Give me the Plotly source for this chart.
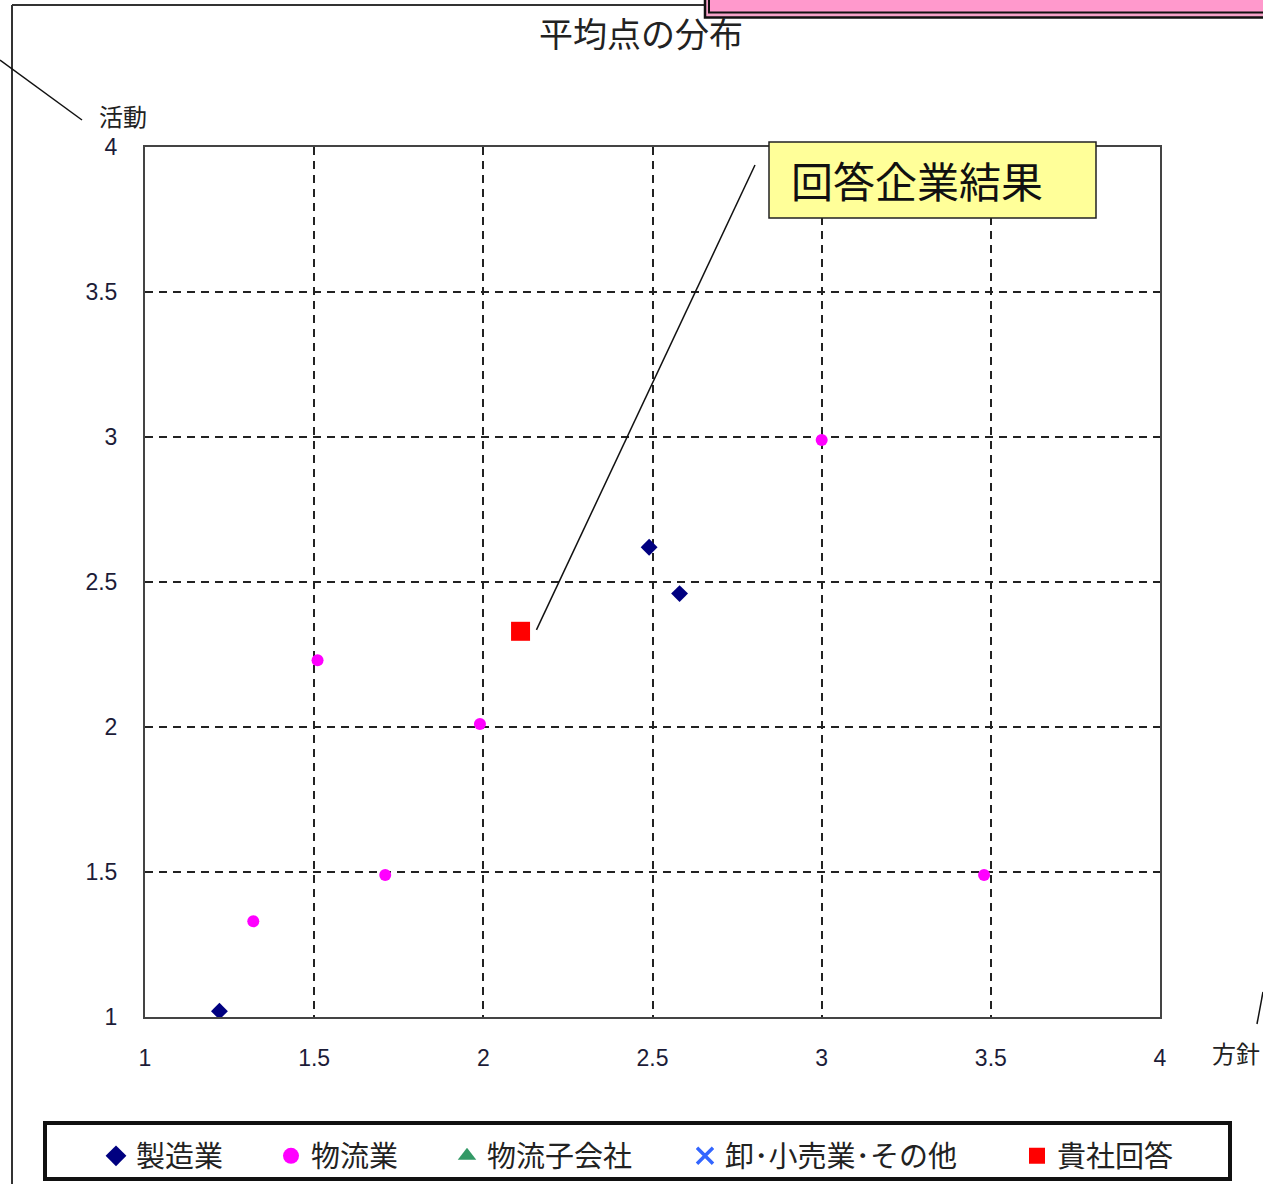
import plotly.graph_objects as go

# --- data -------------------------------------------------------------
mfg_x = [1.22, 2.49, 2.58]          # 製造業
mfg_y = [1.02, 2.62, 2.46]
log_x = [1.32, 1.51, 1.71, 1.99, 3.0, 3.48]   # 物流業
log_y = [1.33, 2.23, 1.49, 2.01, 2.99, 1.49]
sub_x = []                           # 物流子会社
sub_y = []
whl_x = []                           # 卸・小売業・その他
whl_y = []
own_x = [2.11]                       # 貴社回答
own_y = [2.33]

tick_vals = [1, 1.5, 2, 2.5, 3, 3.5, 4]
tick_text = ["1", "1.5", "2", "2.5", "3", "3.5", "4"]

series_names = ["製造業", "物流業", "物流子会社", "卸･小売業･その他", "貴社回答"]
series_colors = ["#000080", "#FF00FF", "#339966", "#3366FF", "#FF0000"]
series_symbols = ["diamond", "circle", "triangle-up", "x-thin-open", "square"]

# --- page geometry (pixels) ------------------------------------------
W, H = 1263, 1184
L, R, T, B = 145, 103, 147, 167
PW, PH = W - L - R, H - T - B


def px(xp):
    return (xp - L) / PW


def py(yp):
    return (H - B - yp) / PH


CJK = "Noto Sans CJK JP"
NUM = "Liberation Sans"

fig = go.Figure()

fig.add_trace(go.Scatter(x=mfg_x, y=mfg_y, mode="markers", name=series_names[0],
                         marker=dict(symbol="diamond", size=13, color=series_colors[0]),
                         showlegend=False))
fig.add_trace(go.Scatter(x=log_x, y=log_y, mode="markers", name=series_names[1],
                         marker=dict(symbol="circle", size=12, color=series_colors[1]),
                         showlegend=False))
fig.add_trace(go.Scatter(x=sub_x, y=sub_y, mode="markers", name=series_names[2],
                         marker=dict(symbol="triangle-up", size=12, color=series_colors[2]),
                         showlegend=False))
fig.add_trace(go.Scatter(x=whl_x, y=whl_y, mode="markers", name=series_names[3],
                         marker=dict(symbol="x-thin-open", size=12, color=series_colors[3],
                                     line=dict(width=3, color=series_colors[3])),
                         showlegend=False))
fig.add_trace(go.Scatter(x=own_x, y=own_y, mode="markers", name=series_names[4],
                         marker=dict(symbol="square", size=19, color=series_colors[4]),
                         showlegend=False))

# legend entries, one small legend per series laid out along the bottom box
legend_centers = [117, 292, 468, 706, 1038]
legend_layout = {}
for i, (name, col, sym, cx) in enumerate(zip(series_names, series_colors,
                                              series_symbols, legend_centers)):
    key = "legend" if i == 0 else f"legend{i + 1}"
    mk = dict(symbol=sym, size=20, color=col)
    if sym.startswith("x"):
        mk["line"] = dict(width=3.5, color=col)
    fig.add_trace(go.Scatter(x=[None], y=[None], mode="markers", name=name,
                             marker=mk, legend=key, showlegend=True, hoverinfo="skip"))
    legend_layout[key] = dict(
        x=px(cx - 21), y=py(1156), xanchor="left", yanchor="middle",
        orientation="h", bgcolor="rgba(0,0,0,0)", borderwidth=0,
        font=dict(family=CJK, size=29, color="#222222"),
        itemsizing="trace",
    )

shapes = []
# outer frame (left and top edges)
shapes.append(dict(type="line", xref="paper", yref="paper",
                   x0=px(12), y0=py(5), x1=px(12), y1=py(1200),
                   line=dict(color="#333333", width=2)))
shapes.append(dict(type="line", xref="paper", yref="paper",
                   x0=px(12), y0=py(5), x1=px(705), y1=py(5),
                   line=dict(color="#333333", width=2)))
# pink banner in the top-right corner
shapes.append(dict(type="rect", xref="paper", yref="paper",
                   x0=px(705), y0=py(-10), x1=px(1275), y1=py(17.5),
                   fillcolor="#F5A3C8", line=dict(color="#111111", width=2.5)))
shapes.append(dict(type="rect", xref="paper", yref="paper",
                   x0=px(709), y0=py(-10), x1=px(1275), y1=py(12.5),
                   fillcolor="#FF99CC", line=dict(color="#111111", width=2)))
# leader lines to the axis captions
shapes.append(dict(type="line", xref="paper", yref="paper",
                   x0=px(0), y0=py(60), x1=px(82), y1=py(120),
                   line=dict(color="#111111", width=1.5)))
shapes.append(dict(type="line", xref="paper", yref="paper",
                   x0=px(1263), y0=py(992), x1=px(1257), y1=py(1024),
                   line=dict(color="#111111", width=1.5)))
# callout box and its leader line to the own-company point
shapes.append(dict(type="line", xref="x", yref="y",
                   x0=2.157, y0=2.335, x1=2.803, y1=3.938,
                   line=dict(color="#111111", width=1.5)))
shapes.append(dict(type="rect", xref="paper", yref="paper",
                   x0=px(769), y0=py(142), x1=px(1096), y1=py(218),
                   fillcolor="#FFFF99", line=dict(color="#222222", width=1.5)))
# legend frame
shapes.append(dict(type="rect", xref="paper", yref="paper",
                   x0=px(45), y0=py(1123), x1=px(1230), y1=py(1179),
                   fillcolor="rgba(0,0,0,0)", line=dict(color="#111111", width=4)))

annotations = [
    dict(text="平均点の分布", xref="paper", yref="paper", x=px(641), y=py(32),
         xanchor="center", yanchor="middle", showarrow=False,
         font=dict(family=CJK, size=34, color="#222222")),
    dict(text="活動", xref="paper", yref="paper", x=px(123), y=py(115),
         xanchor="center", yanchor="middle", showarrow=False,
         font=dict(family=CJK, size=24, color="#222222")),
    dict(text="方針", xref="paper", yref="paper", x=px(1236), y=py(1052),
         xanchor="center", yanchor="middle", showarrow=False,
         font=dict(family=CJK, size=24, color="#222222")),
    dict(text="回答企業結果", xref="paper", yref="paper", x=px(789), y=py(180),
         xanchor="left", yanchor="middle", showarrow=False,
         font=dict(family=CJK, size=42, color="#111111")),
]

axis_common = dict(
    range=[1, 4], tickvals=tick_vals, ticktext=tick_text,
    showgrid=True, gridcolor="#222222", gridwidth=1.5, griddash="8px,6px",
    showline=True, mirror=True, linecolor="#444444", linewidth=2,
    zeroline=False, ticks="", fixedrange=True,
    tickfont=dict(family=NUM, size=23, color="#1c1c38"),
)

fig.update_layout(
    width=W, height=H,
    margin=dict(l=L, r=R, t=T, b=B, pad=0, autoexpand=False),
    paper_bgcolor="white", plot_bgcolor="white",
    xaxis=dict(axis_common, ticklabelstandoff=19),
    yaxis=dict(axis_common, ticklabelstandoff=21),
    shapes=shapes, annotations=annotations,
    showlegend=True,
    **legend_layout,
)

fig.write_html("out.html")
